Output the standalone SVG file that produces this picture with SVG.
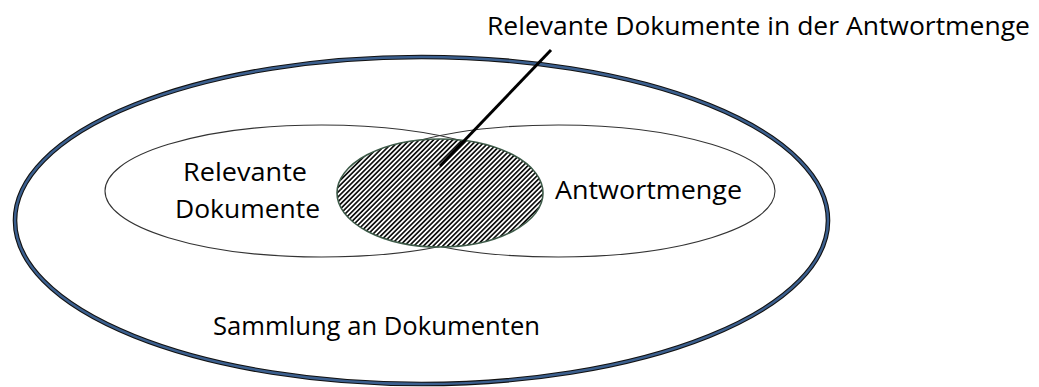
<svg xmlns="http://www.w3.org/2000/svg" width="1039" height="387" viewBox="0 0 1039 387">
<defs>
<pattern id="hatch" patternUnits="userSpaceOnUse" width="3.4" height="3.4" patternTransform="rotate(45)">
<rect width="3.4" height="3.4" fill="#ffffff"/>
<rect width="1.7" height="3.4" fill="#111111"/>
</pattern>
</defs>
<style>
text{font-family:"Open Sans","Noto Sans","Liberation Sans",sans-serif;fill:#000;font-size:26px}
.inner{fill:none;stroke:#333;stroke-width:1.1}
</style>
<rect width="1039" height="387" fill="#ffffff"/>
<g id="sammlung">
<ellipse cx="421.5" cy="220.5" rx="406.5" ry="163.5" fill="none" stroke="#111" stroke-width="4.6"/>
<ellipse cx="421.5" cy="220.5" rx="406.5" ry="163.5" fill="none" stroke="#3b5f8e" stroke-width="2.4"/>
<text x="213" y="335" textLength="327" lengthAdjust="spacingAndGlyphs">Sammlung an Dokumenten</text>
</g>
<g id="relevante">
<ellipse class="inner" cx="321.5" cy="191" rx="216.5" ry="66"/>
<text x="183" y="181" textLength="124" lengthAdjust="spacingAndGlyphs">Relevante</text>
<text x="175" y="218" textLength="145" lengthAdjust="spacingAndGlyphs">Dokumente</text>
</g>
<g id="antwortmenge">
<ellipse class="inner" cx="558.5" cy="191" rx="216.5" ry="66"/>
<text x="555" y="199" textLength="187" lengthAdjust="spacingAndGlyphs">Antwortmenge</text>
</g>
<g id="schnitt">
<ellipse cx="440" cy="193" rx="103" ry="54" fill="url(#hatch)" stroke="#3d5a48" stroke-width="1.6"/>
</g>
<g id="connectors">
<line x1="440" y1="166" x2="551" y2="50" stroke="#000" stroke-width="3"/>
</g>
<g id="label-top">
<text x="487" y="35" textLength="543" lengthAdjust="spacingAndGlyphs">Relevante Dokumente in der Antwortmenge</text>
</g>
</svg>
